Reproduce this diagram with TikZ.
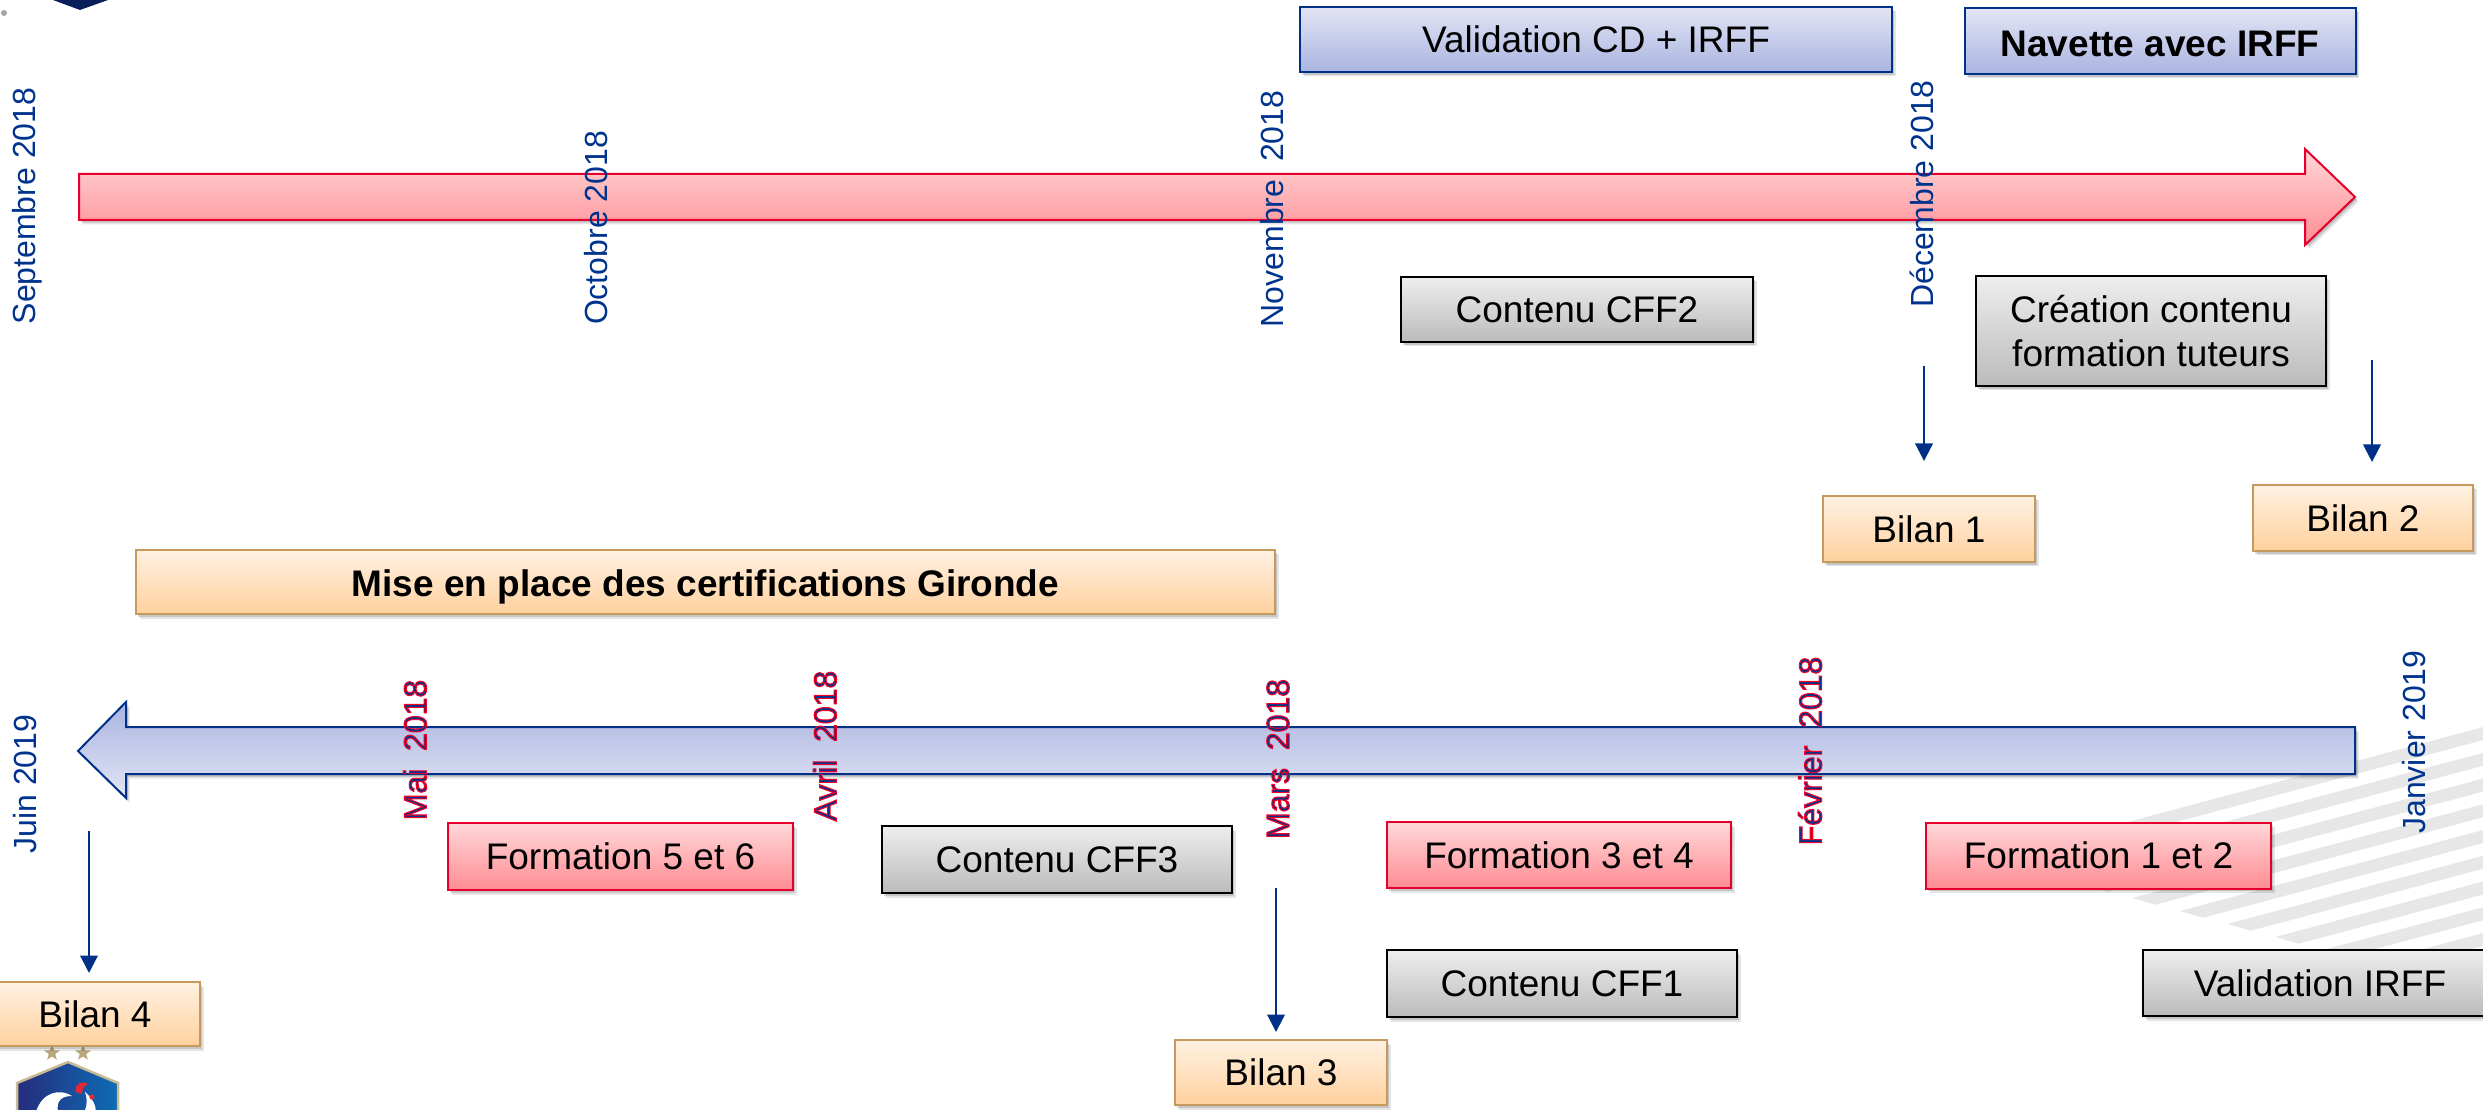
\documentclass[tikz,border=0pt]{standalone}
\usepackage{fontspec}
\setmainfont{Liberation Sans}
\usetikzlibrary{shadows,arrows.meta,shapes.geometric}
\definecolor{navyline}{HTML}{003189}
\definecolor{redline}{HTML}{E4002B}
\definecolor{orangeline}{HTML}{C69A5C}
\definecolor{dateblue}{HTML}{00338D}
\definecolor{stripe}{HTML}{E7E7E7}
\definecolor{gold}{HTML}{B8A77C}
\definecolor{bluetop}{HTML}{E3E5F5}
\definecolor{bluebot}{HTML}{A9B4E0}
\definecolor{greytop}{HTML}{EEEEEE}
\definecolor{greybot}{HTML}{BBBBBB}
\definecolor{redtop}{HTML}{FFD8D8}
\definecolor{redbot}{HTML}{FF8C94}
\definecolor{orangetop}{HTML}{FFF1E2}
\definecolor{orangebot}{HTML}{FFD19E}
\definecolor{logonavy}{HTML}{0A1E5A}
\definecolor{dotgrey}{HTML}{A0A6AA}
\definecolor{logotan}{HTML}{C9BC94}
\definecolor{logoleft}{HTML}{262C7D}
\definecolor{logoright}{HTML}{0E6CB5}
\definecolor{logored}{HTML}{E62832}
\newcommand{\redoutline}[1]{\special{pdf:code 2 Tr 0.42 w 0.95 0 0.15 RG}#1\special{pdf:code 0 Tr}}
\tikzset{
  softshadow/.style={
    drop shadow={shadow xshift=0.4pt,shadow yshift=-0.5pt,opacity=.14,fill=black},
    drop shadow={shadow xshift=0.9pt,shadow yshift=-1.1pt,opacity=.14,fill=black},
    drop shadow={shadow xshift=1.4pt,shadow yshift=-1.8pt,opacity=.10,fill=black}},
  base/.style={rectangle,inner sep=0pt,line width=0.8pt,softshadow,text=black,align=center,
    font=\fontsize{14.8}{17.6}\selectfont},
  sz/.style 2 args={minimum width=#1*0.4pt,minimum height=#2*0.4pt},
  bluebox/.style={base,draw=navyline,top color=bluetop,bottom color=bluebot},
  greybox/.style={base,draw=black,top color=greytop,bottom color=greybot},
  redbox/.style={base,draw=redline,top color=redtop,bottom color=redbot},
  orangebox/.style={base,draw=orangeline,top color=orangetop,bottom color=orangebot},
  datelabel/.style={rotate=90,inner sep=0pt,text=dateblue,font=\fontsize{12.8}{15}\selectfont},
  reddate/.style={rotate=90,inner sep=0pt,text=dateblue,font=\fontsize{12.8}{15}\selectfont},
  pointer/.style={navyline,line width=0.9pt,-{Triangle[length=7pt,width=7pt]}},
  logostar/.style={star,star points=5,star point ratio=2.4,fill=gold,inner sep=0pt,minimum size=6.6pt},
}
\begin{document}
\begin{tikzpicture}[x=0.4pt,y=-0.4pt]
\useasboundingbox (0,0) rectangle (2483,1110);
\clip (0,0) rectangle (2483,1110);
% background stripes
\foreach \k in {0,...,8}{
  \fill[stripe] ({1989+47.7*\k},{859+13*\k}) -- ({1989+47.7*\k+600},{859+13*\k-160.2})
     -- ({1989+47.7*\k+600},{859+13*\k-147.2}) -- ({1989+47.7*\k+23.3},{859+13*\k+6.7}) -- cycle;
}
% logos
\fill[logonavy] (53,0) -- (80,10) -- (108,0) -- cycle;
\fill[dotgrey] (4,13) circle (3);
\node[logostar] (s1) at (52,1053) {};
\node[logostar] (s2) at (83,1053) {};
\draw[draw=logotan,line width=1pt,left color=logoleft,right color=logoright]
  (68,1062) -- (118,1083) -- (118,1130) -- (17,1130) -- (17,1083) -- cycle;
\fill[white] (36,1112) .. controls (42,1092) and (60,1088) .. (72,1096) .. controls (62,1096) and (56,1100) .. (58,1112) -- cycle;
\fill[white] (84,1112) .. controls (88,1105) and (87,1098) .. (85,1092) .. controls (92,1098) and (96,1105) .. (96,1112) -- cycle;
\fill[logored] (76,1092) .. controls (74,1084) and (82,1080) .. (88,1084) .. controls (84,1086) and (82,1088) .. (82,1094) -- cycle;
\fill[logored] (92,1097) circle (2.6);
% main arrows
\draw[draw=redline,line width=0.8pt,softshadow,top color=redtop,bottom color=redbot]
  (79,174) -- (2305,174) -- (2305,149) -- (2355,197) -- (2305,245) -- (2305,220) -- (79,220) -- cycle;
\draw[draw=navyline,line width=0.8pt,softshadow,top color=bluebot,bottom color=bluetop]
  (2355,727) -- (126,727) -- (126,702) -- (78,751) -- (126,798) -- (126,774) -- (2355,774) -- cycle;
% boxes
\node[bluebox,sz={592}{65}] (vcd) at (1596,39.5) {Validation CD + IRFF};
\node[bluebox,sz={391}{66},font=\fontsize{14.8}{17.6}\selectfont\bfseries,text height=12.3pt,text depth=0pt] (nav) at (2160,41) {Navette avec IRFF};
\node[greybox,sz={352}{65}] (cff2) at (1577,309.5) {Contenu CFF2};
\node[greybox,sz={350}{110}] (crea) at (2151,331) {Création contenu\\formation tuteurs};
\node[orangebox,sz={212}{66}] (b1) at (1929,529) {Bilan 1};
\node[orangebox,sz={220}{66}] (b2) at (2363,518) {Bilan 2};
\node[orangebox,sz={1139}{64},font=\fontsize{14.8}{17.6}\selectfont\bfseries,text height=14.6pt,text depth=3.1pt] (mise) at (705.5,582) {Mise en place des certifications Gironde};
\node[redbox,sz={345}{67}] (f56) at (620.5,856.5) {Formation 5 et 6};
\node[greybox,sz={350}{67}] (cff3) at (1057,859.5) {Contenu CFF3};
\node[redbox,sz={344}{66}] (f34) at (1559,855) {Formation 3 et 4};
\node[redbox,sz={345}{66}] (f12) at (2098.5,855.5) {Formation 1 et 2};
\node[greybox,sz={350}{67}] (cff1) at (1562,983.5) {Contenu CFF1};
\node[greybox,sz={354}{66}] (vir) at (2320,983) {Validation IRFF};
\node[orangebox,sz={212}{65}] (b3) at (1281,1072.5) {Bilan 3};
\node[orangebox,sz={210}{64}] (b4) at (95,1014) {Bilan 4};
% pointers
\coordinate (p1s) at (1924,366); \coordinate (p1e) at (1924,461);
\coordinate (p2s) at (2372,360); \coordinate (p2e) at (2372,462);
\coordinate (p3s) at (1276,888); \coordinate (p3e) at (1276,1032);
\coordinate (p4s) at (89,831);   \coordinate (p4e) at (89,973);
\draw[pointer] (p1s) -- (p1e);
\draw[pointer] (p2s) -- (p2e);
\draw[pointer] (p3s) -- (p3e);
\draw[pointer] (p4s) -- (p4e);
% dates
\node[datelabel] (d1) at (27,206) {Septembre 2018};
\node[datelabel] (d2) at (596,228) {Octobre 2018};
\node[datelabel] (d3) at (1272,209) {Novembre~~2018};
\node[datelabel] (d4) at (1922,194) {Décembre 2018};
\node[datelabel] (d5) at (2414,742) {Janvier 2019};
\node[datelabel] (d6) at (25,784) {Juin 2019};
\node[reddate] (d7) at (1810,751) {\redoutline{Février~~2018}};
\node[reddate] (d8) at (1278,759) {\redoutline{Mars~~2018}};
\node[reddate] (d9) at (825,746) {\redoutline{Avril~~2018}};
\node[reddate] (d10) at (415,750) {\redoutline{Mai~~2018}};
\end{tikzpicture}
\end{document}
